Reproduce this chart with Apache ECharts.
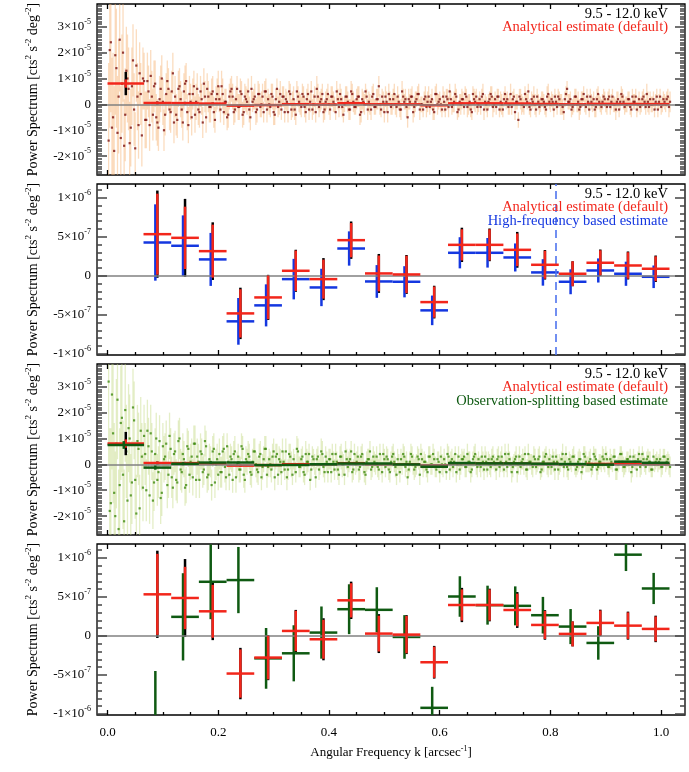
<!DOCTYPE html>
<html><head><meta charset="utf-8">
<script src="https://cdn.jsdelivr.net/npm/echarts@6/dist/echarts.min.js"></script>
<style>html,body{margin:0;padding:0;background:#fff}#c{width:689px;height:772px}</style>
</head><body><div id="c"></div>
<script>
// ---------------- DATA (power values in units of 1e-6 cts^2 s^-2 deg^-2) ----------------
const bandLabel = '9.5 - 12.0 keV';
const binK = [0.033,0.09,0.14,0.19,0.24,0.29,0.34,0.39,0.44,0.49,0.54,0.59,0.64,0.69,0.74,0.79,0.84,0.89,0.94,0.99];
const binHalfWidth = [0.033,0.025,0.025,0.025,0.025,0.025,0.025,0.025,0.025,0.025,0.025,0.025,0.025,0.025,0.025,0.025,0.025,0.025,0.025,0.025];
const analyticalVal = [8.05,0.534,0.487,0.316,-0.483,-0.278,0.064,-0.043,0.457,0.03,0.017,-0.338,0.397,0.397,0.333,0.141,0.026,0.167,0.132,0.09];
const analyticalErr = [1.6,0.52,0.40,0.34,0.31,0.28,0.26,0.25,0.22,0.23,0.24,0.20,0.20,0.20,0.21,0.18,0.16,0.16,0.17,0.16];
const blackErr      = [4.5,0.56,0.50,0.37,0.33,0.29,0.27,0.27,0.24,0.25,0.25,0.21,0.22,0.21,0.23,0.19,0.16,0.17,0.18,0.17];
const highFreqVal = [null,0.427,0.385,0.21,-0.585,-0.38,-0.043,-0.15,0.35,-0.073,-0.077,-0.444,0.295,0.295,0.235,0.043,-0.077,0.068,0.026,-0.013];
const highFreqErr = [null,0.49,0.39,0.34,0.30,0.27,0.26,0.24,0.22,0.21,0.20,0.19,0.20,0.19,0.18,0.17,0.16,0.155,0.155,0.145];
const splitVal = [7.5,-1.25,0.245,0.695,0.717,-0.288,-0.223,0.043,0.343,0.335,-0.013,-0.923,0.506,0.395,0.386,0.266,0.12,-0.09,1.043,0.609];
const splitErr = [1.5,0.8,0.56,0.48,0.425,0.39,0.36,0.335,0.32,0.29,0.28,0.27,0.26,0.25,0.25,0.235,0.225,0.215,0.21,0.2];
const highFreqCutK = 0.814;

// fine-grained spectrum: set A at k = specStartK + i*specStepK, set B offset by specOffsetB
const specStartK = 0.002, specStepK = 0.004, specOffsetB = 0.002;
const spec1Val = [-14,24,-5,19,-11,25,8,-16,13,6,-9,17,-17,3,12,-12,9,
 -6,5,11,-4,8,-7,2,10,-10,4,6,-3,12,
 3,-6,7,-2,5,9,-8,1,4,-4,6,-3,2,8,-5,3,-1,5,-6,4,
 2,7,-3,1,-4,5,3,-2,6,-1,4,-3,2,5,-5,1,3,-2,4,0,-3,5,2,-1,3,
 -4,6,1,-2,3,2,-3,4,0,-2,5,1,-1,3,-3,4,1,-2,3,6,-1,2,-3,1,4,
 -2,3,0,5,-1,2,-4,3,1,-2,4,-1,2,3,-3,1,5,-2,0,3,-1,2,7,-2,1,
 3,-3,2,0,4,-1,1,-2,3,2,-5,1,3,-1,2,4,0,-2,3,1,-1,2,-3,4,1,
 0,3,-2,2,5,-1,1,3,-2,0,2,4,-1,1,-3,2,3,0,-1,4,1,-2,2,3,0,
 -1,3,1,-2,4,2,0,-1,3,1,-6,2,0,4,1,-1,2,3,-2,1,0,2,-1,3,1,
 2,-2,1,3,0,-1,2,6,1,-2,0,3,1,-1,2,0,3,-2,1,2,-1,4,0,1,2,
 -1,3,1,0,-2,2,1,3,-1,0,2,-2,1,3,0,-1,2,1,4,-1,0,2,1,-2,3,0,1,2,-1];
const spec1ValB = [21,-9,-18,14,3,-13,20,-4,10,-15,7,-2,15,-8,4,10,-6,
 9,-8,3,7,-5,-9,6,1,-4,9,-2,5,-7,
 -4,6,2,-7,8,-3,4,-5,7,1,-2,5,-7,3,6,-1,4,-3,2,7,
 -2,4,1,-5,3,6,-3,2,-1,5,-4,3,1,-2,6,2,-3,4,-1,3,5,-2,0,4,-3,
 2,-1,4,3,-3,1,5,-2,2,-4,3,0,4,-1,2,-2,5,0,-3,3,1,4,-2,2,0,
 3,1,-3,2,4,-1,0,3,-2,5,1,-1,3,-4,2,0,3,1,-2,4,-1,2,0,3,-3,
 1,4,-1,2,0,3,-2,5,1,-1,2,3,-3,1,4,-2,0,2,-1,3,1,-2,4,0,2,
 -2,1,3,-1,2,0,4,-3,1,2,-1,3,0,-2,4,1,-1,2,3,-2,0,1,4,-1,2,
 3,-2,0,2,1,-1,4,2,-3,1,3,0,-1,2,5,-2,1,0,3,-1,2,1,-2,4,0,
 1,3,-1,2,0,-3,4,1,2,-1,3,0,-2,2,4,-1,1,3,0,-2,2,1,-1,3,0,
 2,-1,3,0,1,-2,4,1,0,2,-1,3,1,-2,2,0,3,-1,1,2,0,-2,3,1,-1,2,0,3,1];
const spec1Err = [30,27,25,23,22,20,19,18,17,16,15,14,14,13,12,12,11,
 11,10,10,10,9,9,9,9,8,8,8,8,8,
 8,7,7,7,7,7,7,7,6,7,6,6,6,6,6,6,6,6,5,6,
 5,6,5,5,5,5,5,5,5,5,5,5,5,5,5,4,5,5,4,5,4,5,4,4,5,
 4,4,5,4,4,4,4,4,5,4,4,4,4,4,4,4,4,4,4,5,4,4,4,4,4,
 4,4,3,4,4,4,3,4,4,4, 4,3,4,4,4,4,3,4,4,4, 3,4,4,3,4,4,4,3,4,4, 4,3,4,3,4,4,3,4,4,3,
 4,3,3,4,4,3,4,3,4,3, 3,4,3,4,3,3,4,3,3,4, 3,3,4,3,3,4,3,3,3,4, 3,3,3,4,3,3,3,4,3,3,
 3,4,3,3,3,3,4,3,3,3, 3,3,4,3,3,3,3,3,4,3, 3,3,3,3,4,3,3,3,3,3, 3,3,4,3,3,3,3,3,3,3,
 4,3,3,3,3,3,3,3,3,4, 3,3,3,3,3,3,3,3,3,3, 3,3,3,4,3,3,3,3,3,3, 3,3,3,4];
const spec3Val = [32,-15,12,-20,25,-8,18,-22,5,14,-12,22,-6,9,-17,3,11,
 -10,7,12,-14,4,-6,9,-11,2,8,-4,6,-9,
 5,-7,10,-3,2,-8,6,1,-5,8,3,-6,4,-2,7,-4,1,5,-7,2,
 4,-3,6,-5,1,3,-6,5,0,-2,7,-4,2,4,-3,1,5,-2,3,-5,2,6,-1,0,3,
 -5,4,2,-3,1,5,-2,3,-4,0,6,-1,2,-3,4,1,-6,3,0,2,-2,5,-1,3,-3,
 2,4,-2,1,-4,3,0,5,-1,2,-3,4,1,-2,3,0,-4,2,5,-1,1,3,-2,0,4,
 -1,2,-3,3,1,-4,0,2,4,-1,-5,1,3,-2,0,2,4,-1,1,-3,3,0,2,-2,1,
 3,-1,0,4,-2,2,1,-3,3,0,2,-1,4,1,-2,3,0,2,-1,1,3,-2,0,2,1,
 -2,3,1,0,4,-1,2,-3,1,3,0,-1,2,4,-2,1,0,3,-1,2,-3,1,3,0,2,
 -1,1,3,-2,0,4,1,-1,2,0,3,-2,1,2,-1,3,0,1,-2,4,2,-1,1,3,0,
 2,-1,1,3,-2,0,4,1,-1,2,0,-3,3,1,2,-1,4,0,2,1,-2,3,1,0,2,-1,3,1,0];
const spec3ValB = [-18,27,-11,8,-25,16,-4,21,-14,10,-7,17,-19,6,13,-9,4,
 13,-12,5,-7,10,-3,-13,7,3,-8,11,-5,4,
 -6,9,-2,4,-9,7,-4,3,8,-6,1,5,-3,9,-5,2,-8,6,0,-4,
 -3,5,-1,7,-4,2,4,-5,3,-2,6,-6,1,3,-4,5,0,-3,4,-1,6,-4,2,-2,5,
 3,-4,1,5,-2,-5,4,0,2,-3,5,-1,3,-4,1,4,-2,2,-5,3,0,4,-3,1,2,
 -3,1,4,-2,3,0,-4,2,1,5,-2,0,3,-1,4,-3,1,2,-2,3,0,-1,4,-3,2,
 3,-2,1,4,-1,2,-3,0,3,1,-2,4,0,-1,3,-4,2,1,-2,3,0,4,-1,2,-3,
 0,2,-3,3,1,-1,4,0,-2,2,3,-1,1,-3,2,4,-1,0,3,-2,1,2,-1,3,0,
 2,-1,3,-2,1,4,0,-1,2,-3,3,1,0,-2,4,1,-1,2,0,3,-2,1,4,-1,0,
 3,-2,1,0,2,-1,4,-2,1,3,0,-1,2,-3,4,1,0,2,-1,3,-2,1,0,2,4,
 -1,2,0,3,-2,1,4,-1,0,2,3,-1,1,-2,4,0,2,-1,3,1,-2,0,2,1,-1,3,0,2,-1];
const spec3Err = [32,29,27,25,23,22,21,20,18,17,16,15,15,14,13,13,12,
 12,11,11,11,10,10,10,9,9,9,9,8,8,
 8,8,8,8,7,7,7,7,7,7,7,7,6,6,6,6,6,6,6,6,
 6,6,6,5,6,5,5,6,5,5,5,5,5,5,5,5,5,5,5,5,5,5,4,5,5,
 5,4,5,5,4,5,4,5,4,4,5,4,4,4,5,4,4,4,4,4,4,5,4,4,4,
 4,4,4,4,4,5,4,4,4,4, 4,4,4,5,4,4,4,4,4,4, 4,4,4,4,4,4,4,4,4,4, 4,4,4,4,4,3,4,4,4,4,
 4,4,4,3,4,4,4,4,3,4, 4,4,3,4,4,4,3,4,4,4, 3,4,4,4,3,4,4,3,4,4, 4,3,4,4,3,4,4,4,3,4,
 4,3,4,3,4,4,3,4,3,4, 3,4,4,3,4,3,4,3,4,4, 3,4,3,4,3,4,3,4,3,3, 4,3,4,3,3,4,3,4,3,3,
 4,3,3,4,3,3,4,3,3,4, 3,3,4,3,3,3,4,3,3,3, 4,3,3,3,4,3,3,3,3,4, 3,3,3,4];

const xMajorTicks = [0,0.2,0.4,0.6,0.8,1.0];
const yMajorWide = [-20,-10,0,10,20,30];
const yMajorNarrow = [-1,-0.5,0,0.5,1];

// ---------------- LAYOUT / STYLE ----------------
const FONT = '"Liberation Serif", "Times New Roman", serif';
const GRID_LEFT = 97, GRID_W = 588, GRID_H = 171, GRID_TOPS = [4,184,364,544];
const X_MIN = -0.019, X_MAX = 1.043;
const Y_RANGES = [[-27.3,38.8],[-1.017,1.178],[-27.3,38.8],[-1.015,1.18]];
const RED = '#f2261b', BLUE = '#1437e0', GREEN = '#0f5a12', BLACK = '#000';

function stepTicks(min, max, step, exclude) {
  const out = [];
  for (let i = Math.ceil(min/step - 1e-9); i <= Math.floor(max/step + 1e-9); i++) {
    const v = Math.round(i*step*1e6)/1e6;
    if (!exclude.some(e => Math.abs(e - v) < 1e-9)) out.push(v);
  }
  return out;
}
const xMinorTicks = stepTicks(0, 1.0, 0.05, xMajorTicks);

const rich = {
  n: {fontFamily: FONT, fontSize: 13, color: '#000', lineHeight: 18},
  s: {fontFamily: FONT, fontSize: 8, color: '#000', lineHeight: 9, verticalAlign: 'top'}
};
const richName = {
  n: {fontFamily: FONT, fontSize: 14, color: '#000', lineHeight: 18},
  s: {fontFamily: FONT, fontSize: 9, color: '#000', lineHeight: 10, verticalAlign: 'top'}
};
function fmtY(v) {
  if (Math.abs(v) < 1e-9) return '{n|0}';
  let m = v, ex = -6;
  while (Math.abs(m) >= 9.999) { m /= 10; ex++; }
  while (Math.abs(m) < 0.999) { m *= 10; ex--; }
  return '{n|' + Math.round(m) + '×10}{s|' + ex + '}';
}

const grids = [], xAxes = [], yAxes = [];
for (let p = 0; p < 4; p++) {
  const wide = (p % 2 === 0);
  const [ymin, ymax] = Y_RANGES[p];
  const yMaj = wide ? yMajorWide : yMajorNarrow;
  const yMin = stepTicks(ymin, ymax, wide ? 1 : 0.1, yMaj);
  for (let g = 0; g < 2; g++) {
    const minor = g === 1;
    const gi = grids.length;
    grids.push({left: GRID_LEFT, top: GRID_TOPS[p], width: GRID_W, height: GRID_H, outerBoundsMode: 'none',
      show: !minor, borderColor: '#000', borderWidth: 1.3, backgroundColor: 'transparent'});
    const xb = {type: 'value', gridIndex: gi, min: X_MIN, max: X_MAX, splitLine: {show: false},
      axisLine: {show: false, onZero: false},
      axisTick: {show: true, inside: true, length: minor ? 3 : 5, customValues: minor ? xMinorTicks : xMajorTicks,
        lineStyle: {color: '#000', width: 1.3}},
      axisLabel: {show: false}, z: 20};
    const bottom = Object.assign({}, xb, {position: 'bottom'});
    if (!minor && p === 3) {
      bottom.axisLabel = {show: true, customValues: xMajorTicks, formatter: v => v.toFixed(1),
        fontFamily: FONT, fontSize: 13, color: '#000', margin: 11};
      bottom.name = '{n|Angular Frequency k [arcsec}{s|-1}{n|]}';
      bottom.nameLocation = 'middle';
      bottom.nameGap = 30;
      bottom.nameTextStyle = {rich: {n: {fontFamily: FONT, fontSize: 13, color: '#000', lineHeight: 16},
        s: {fontFamily: FONT, fontSize: 8, color: '#000', lineHeight: 8, verticalAlign: 'top'}}};
    }
    xAxes.push(bottom, Object.assign({}, xb, {position: 'top'}));
    const yb = {type: 'value', gridIndex: gi, min: ymin, max: ymax, splitLine: {show: false},
      axisLine: {show: false, onZero: false},
      axisTick: {show: true, inside: true, length: minor ? 5 : 10, customValues: minor ? yMin : yMaj,
        lineStyle: {color: '#444', width: 1.5}},
      axisLabel: {show: false}, z: 20};
    const left = Object.assign({}, yb, {position: 'left'});
    if (!minor) {
      left.axisLabel = {show: true, customValues: yMaj, formatter: fmtY, rich: rich, margin: 6};
      left.name = '{n|Power Spectrum [cts}{s|2}{n| s}{s|-2}{n| deg}{s|-2}{n|]}';
      left.nameLocation = 'middle';
      left.nameGap = 55;
      left.nameTextStyle = {rich: richName};
    }
    yAxes.push(left, Object.assign({}, yb, {position: 'right'}));
  }
}

function crossRender(color, width, dx) {
  return function (params, api) {
    const k = api.value(0), y = api.value(1), e = api.value(2), hw = api.value(3);
    if (isNaN(y)) return null;
    const cs = params.coordSys;
    const y0 = cs.y, y1 = cs.y + cs.height, x0 = cs.x, x1 = cs.x + cs.width;
    const c = api.coord([k, y]);
    const ch = [];
    if (e > 0) {
      let ya = api.coord([k, y + e])[1], yb = api.coord([k, y - e])[1];
      ya = Math.max(y0, ya); yb = Math.min(y1, yb);
      if (yb > ya) ch.push({type: 'line', shape: {x1: c[0] + dx, y1: ya, x2: c[0] + dx, y2: yb},
        style: {stroke: color, lineWidth: width}});
    }
    if (hw > 0 && c[1] >= y0 && c[1] <= y1) {
      const xa = Math.max(x0, api.coord([k - hw, y])[0]), xbb = Math.min(x1, api.coord([k + hw, y])[0]);
      ch.push({type: 'line', shape: {x1: xa, y1: c[1], x2: xbb, y2: c[1]}, style: {stroke: color, lineWidth: width}});
    }
    return {type: 'group', children: ch};
  };
}
function binData(vals, errs, withHW) {
  const out = [];
  for (let i = 0; i < binK.length; i++) {
    if (vals[i] === null || vals[i] === undefined) continue;
    out.push([binK[i], vals[i], errs[i], withHW ? binHalfWidth[i] : 0]);
  }
  return out;
}
function specData(vals, errs, offset) {
  const out = [];
  const n = Math.min(vals.length, errs.length);
  for (let i = 0; i < n; i++) out.push([specStartK + offset + i * specStepK, vals[i], errs[i], 0]);
  return out;
}
const zeroLine = {silent: true, symbol: ['none', 'none'], label: {show: false}, animation: false,
  lineStyle: {color: '#808080', width: 1.5, type: 'solid'}, data: [{yAxis: 0}]};

function customSeries(p, data, color, width, dx, z, extra) {
  return Object.assign({type: 'custom', xAxisIndex: 4 * p, yAxisIndex: 4 * p, data: data,
    encode: {x: 0, y: 1}, renderItem: crossRender(color, width, dx), z: z, silent: true, animation: false}, extra || {});
}
function dotSeries(p, data, color, z) {
  return {type: 'scatter', xAxisIndex: 4 * p, yAxisIndex: 4 * p, data: data.map(d => [d[0], d[1]]),
    symbol: 'rect', symbolSize: 2.2, itemStyle: {color: color}, z: z, silent: true, animation: false, clip: true};
}

const series = [];
// panel 1
const s1 = specData(spec1Val, spec1Err, 0).concat(specData(spec1ValB, spec1Err, specOffsetB));
series.push(customSeries(0, s1, 'rgba(246,178,112,0.45)', 1.3, 0, 1, {markLine: zeroLine}));
series.push(dotSeries(0, s1, '#7a0f0f', 2));
series.push(customSeries(0, binData(analyticalVal, blackErr, false), BLACK, 2.5, 0, 3));
series.push(customSeries(0, binData(analyticalVal, analyticalErr, true), RED, 2.5, 0, 4));
// panel 2
series.push(customSeries(1, binData(analyticalVal, blackErr, false), BLACK, 2.5, 0, 3, {markLine: zeroLine}));
series.push(customSeries(1, binData(highFreqVal, highFreqErr, true), BLUE, 2.5, -2, 4,
  {markLine: {silent: true, symbol: ['none', 'none'], label: {show: false}, animation: false,
    lineStyle: {color: '#4f74ee', width: 1.6, type: [8, 5]}, data: [{xAxis: highFreqCutK}]}}));
series.push(customSeries(1, binData(analyticalVal, analyticalErr, true), RED, 2.5, 0, 5));
// panel 3
const s3 = specData(spec3Val, spec3Err, 0).concat(specData(spec3ValB, spec3Err, specOffsetB));
series.push(customSeries(2, s3, 'rgba(196,218,130,0.45)', 1.3, 0, 1, {markLine: zeroLine}));
series.push(dotSeries(2, s3, '#3f8a10', 2));
series.push(customSeries(2, binData(analyticalVal, blackErr, false), BLACK, 2.5, 0, 3));
series.push(customSeries(2, binData(analyticalVal, analyticalErr, true), RED, 2.5, 0, 4));
series.push(customSeries(2, binData(splitVal, splitErr, true), GREEN, 2.5, -2, 5));
// panel 4
series.push(customSeries(3, binData(analyticalVal, blackErr, false), BLACK, 2.5, 0, 3, {markLine: zeroLine}));
series.push(customSeries(3, binData(splitVal, splitErr, true), GREEN, 2.5, -2, 4));
series.push(customSeries(3, binData(analyticalVal, analyticalErr, true), RED, 2.5, 0, 5));

// legend-like annotations
const notes = [
  [[bandLabel, '#000'], ['Analytical estimate (default)', RED]],
  [[bandLabel, '#000'], ['Analytical estimate (default)', RED], ['High-frequency based estimate', BLUE]],
  [[bandLabel, '#000'], ['Analytical estimate (default)', RED], ['Observation-splitting based estimate', GREEN]],
  []
];
const lineOffsets = [10, 23.5, 37];
const graphic = [];
notes.forEach((lines, p) => lines.forEach((ln, j) => {
  graphic.push({type: 'text', x: 668, y: GRID_TOPS[p] + lineOffsets[j], z: 100, silent: true,
    style: {text: ln[0], fill: ln[1], font: '14.5px ' + FONT, textAlign: 'right', textVerticalAlign: 'middle',
      align: 'right', verticalAlign: 'middle'}});
}));

const chart = echarts.init(document.getElementById('c'), null, {renderer: 'canvas'});
chart.setOption({animation: false, backgroundColor: '#fff', grid: grids, xAxis: xAxes, yAxis: yAxes,
  series: series, graphic: graphic});
</script></body></html>
